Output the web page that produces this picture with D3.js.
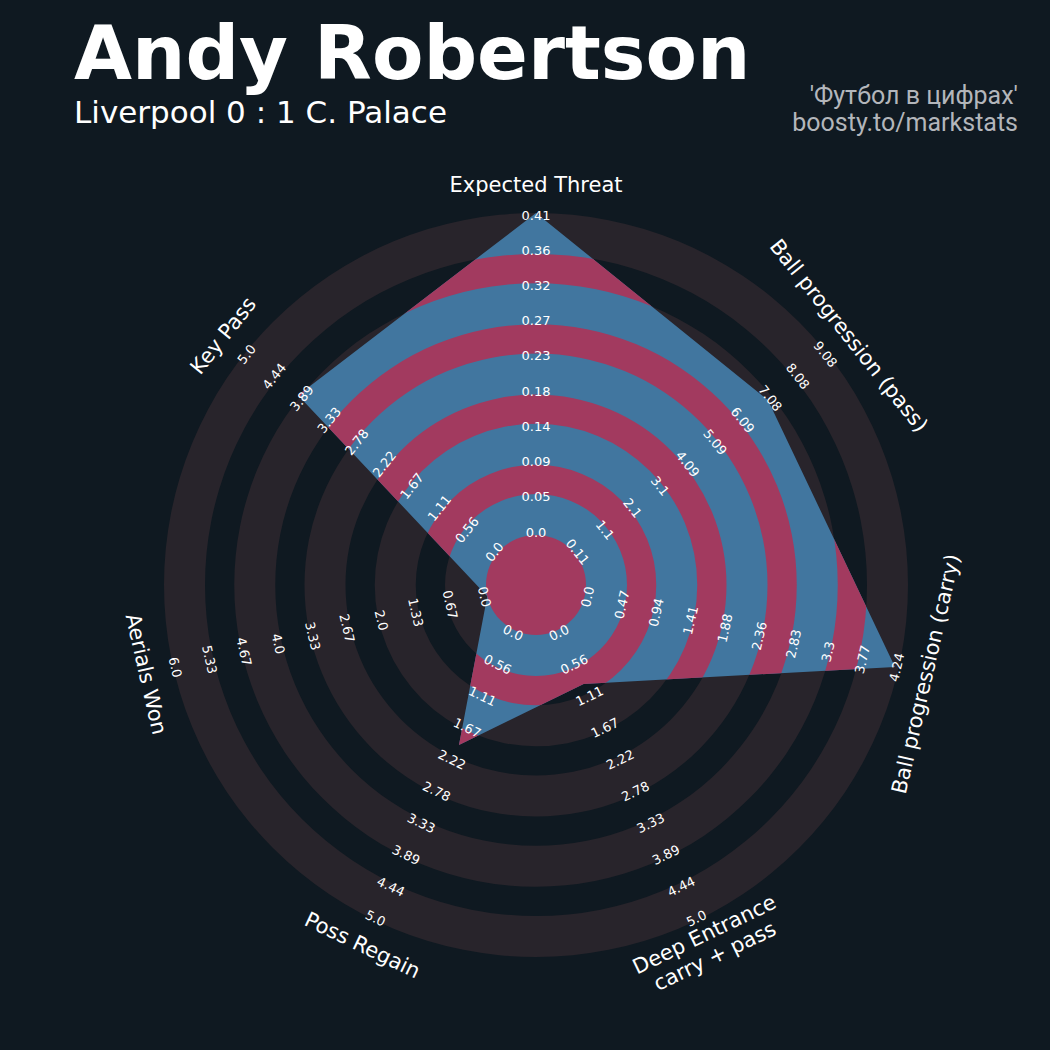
<!DOCTYPE html>
<html>
<head>
<meta charset="utf-8">
<script src="https://cdn.jsdelivr.net/npm/d3@7"></script>
<style>
  body { margin: 0; background: #0f1921; }
  svg { display: block; }
</style>
</head>
<body>
<script>
const w = 1050;
const h = 1050;

// radar data
const params = ["Expected Threat", "Ball progression (pass)", "Ball progression (carry)",
    "Deep Entrance\ncarry + pass", "Poss Regain", "Aerials Won", "Key Pass"];
const values = [0.41, 6.98, 4.19, 0.93, 1.98, 0, 3.95];
const lows = [0, 0.11, 0, 0, 0, 0, 0];
const highs = [0.41, 9.08, 4.24, 5, 5, 6, 5];
const rangeLabels = [
    ["0.0", "0.05", "0.09", "0.14", "0.18", "0.23", "0.27", "0.32", "0.36", "0.41"],
    ["0.11", "1.1", "2.1", "3.1", "4.09", "5.09", "6.09", "7.08", "8.08", "9.08"],
    ["0.0", "0.47", "0.94", "1.41", "1.88", "2.36", "2.83", "3.3", "3.77", "4.24"],
    ["0.0", "0.56", "1.11", "1.67", "2.22", "2.78", "3.33", "3.89", "4.44", "5.0"],
    ["0.0", "0.56", "1.11", "1.67", "2.22", "2.78", "3.33", "3.89", "4.44", "5.0"],
    ["0.0", "0.67", "1.33", "2.0", "2.67", "3.33", "4.0", "4.67", "5.33", "6.0"],
    ["0.0", "0.56", "1.11", "1.67", "2.22", "2.78", "3.33", "3.89", "4.44", "5.0"],
];

const colors = {
    bg: "#0f1921",
    ring: "#28242b",
    radar: "#41769f",
    inner: "#a23a5f",
    text: "#ffffff",
    credit: "#b3b6bb",
};

const cx = 536;
const cy = 585;
const centerR = 50;
const ringW = 41;
const gapW = 29.25;
const numRings = 5;
const outerR = centerR + numRings * ringW + (numRings - 1) * gapW;

const svg = d3.select("body").append("svg").attr("width", w).attr("height", h);
svg.append("rect").attr("width", w).attr("height", h).attr("fill", colors.bg);

// titles
svg.append("text")
    .attr("x", 74).attr("y", 79)
    .attr("font-family", "DejaVu Sans").attr("font-weight", "bold").attr("font-size", 75)
    .attr("fill", colors.text)
    .text("Andy Robertson");
svg.append("text")
    .attr("x", 74).attr("y", 123)
    .attr("font-family", "DejaVu Sans").attr("font-size", 31)
    .attr("fill", colors.text)
    .text("Liverpool 0 : 1 C. Palace");
svg.append("text")
    .attr("x", 1018).attr("y", 104)
    .attr("text-anchor", "end")
    .attr("font-family", "Roboto").attr("font-size", 25)
    .attr("fill", colors.credit)
    .text("'Футбол в цифрах'");
svg.append("text")
    .attr("x", 1018).attr("y", 131)
    .attr("text-anchor", "end")
    .attr("font-family", "Roboto").attr("font-size", 25)
    .attr("fill", colors.credit)
    .text("boosty.to/markstats");

const chart = svg.append("g").attr("transform", `translate(${cx},${cy})`);

const n = params.length;
const angle = d3.scaleLinear().domain([0, n]).range([0, 2 * Math.PI]);
const scales = params.map((p, i) => d3.scaleLinear().domain([lows[i], highs[i]]).range([centerR, outerR]).clamp(true));
const labelPos = d3.scaleLinear().domain([0, 9]).range([53, 370]);

const ringBands = d3.range(numRings).map(k => {
    const inner = centerR + k * (ringW + gapW);
    return { inner, outer: inner + ringW };
});
const gapBands = d3.range(numRings - 1).map(k => {
    const inner = centerR + k * (ringW + gapW) + ringW;
    return { inner, outer: inner + gapW };
});

const arc = d3.arc().startAngle(0).endAngle(2 * Math.PI);

chart.selectAll("path.ring")
    .data(ringBands)
    .enter()
    .append("path")
    .attr("class", "ring")
    .attr("d", d => arc({ innerRadius: d.inner, outerRadius: d.outer }))
    .attr("fill", colors.ring);

// polygon points
const pts = values.map((v, i) => {
    const a = angle(i);
    const r = scales[i](v);
    return [r * Math.sin(a), -r * Math.cos(a)];
});
const radarPath = d3.line().curve(d3.curveLinearClosed)(pts);

chart.append("clipPath").attr("id", "radar-clip")
    .append("path").attr("d", radarPath);

chart.append("path")
    .attr("d", radarPath)
    .attr("fill", colors.radar);

chart.append("g")
    .attr("clip-path", "url(#radar-clip)")
    .selectAll("path")
    .data(gapBands)
    .enter()
    .append("path")
    .attr("d", d => arc({ innerRadius: d.inner, outerRadius: d.outer }))
    .attr("fill", colors.inner);

chart.append("circle").attr("r", centerR).attr("fill", colors.inner);

function rotationFor(i) {
    const deg = angle(i) * 180 / Math.PI;
    return deg > 90 && deg < 270 ? deg - 180 : deg;
}

// range labels
params.forEach((p, i) => {
    const a = angle(i);
    const rot = rotationFor(i);
    rangeLabels[i].forEach((lab, j) => {
        const r = labelPos(j);
        const x = r * Math.sin(a);
        const y = -r * Math.cos(a);
        chart.append("text")
            .attr("transform", `translate(${x},${y}) rotate(${rot})`)
            .attr("text-anchor", "middle")
            .attr("dominant-baseline", "central")
            .attr("font-family", "DejaVu Sans")
            .attr("font-size", 13)
            .attr("fill", colors.text)
            .text(lab);
    });
});

// param labels
params.forEach((p, i) => {
    const a = angle(i);
    const r = 400;
    const x = r * Math.sin(a);
    const y = -r * Math.cos(a);
    const lines = p.split("\n");
    const lh = 24;
    const t = chart.append("text")
        .attr("transform", `translate(${x},${y}) rotate(${rotationFor(i)})`)
        .attr("text-anchor", "middle")
        .attr("dominant-baseline", "central")
        .attr("font-family", "DejaVu Sans")
        .attr("font-size", 21)
        .attr("fill", colors.text);
    lines.forEach((line, k) => {
        t.append("tspan")
            .attr("x", 0)
            .attr("y", (k - (lines.length - 1) / 2) * lh)
            .text(line);
    });
});
</script>
</body>
</html>
